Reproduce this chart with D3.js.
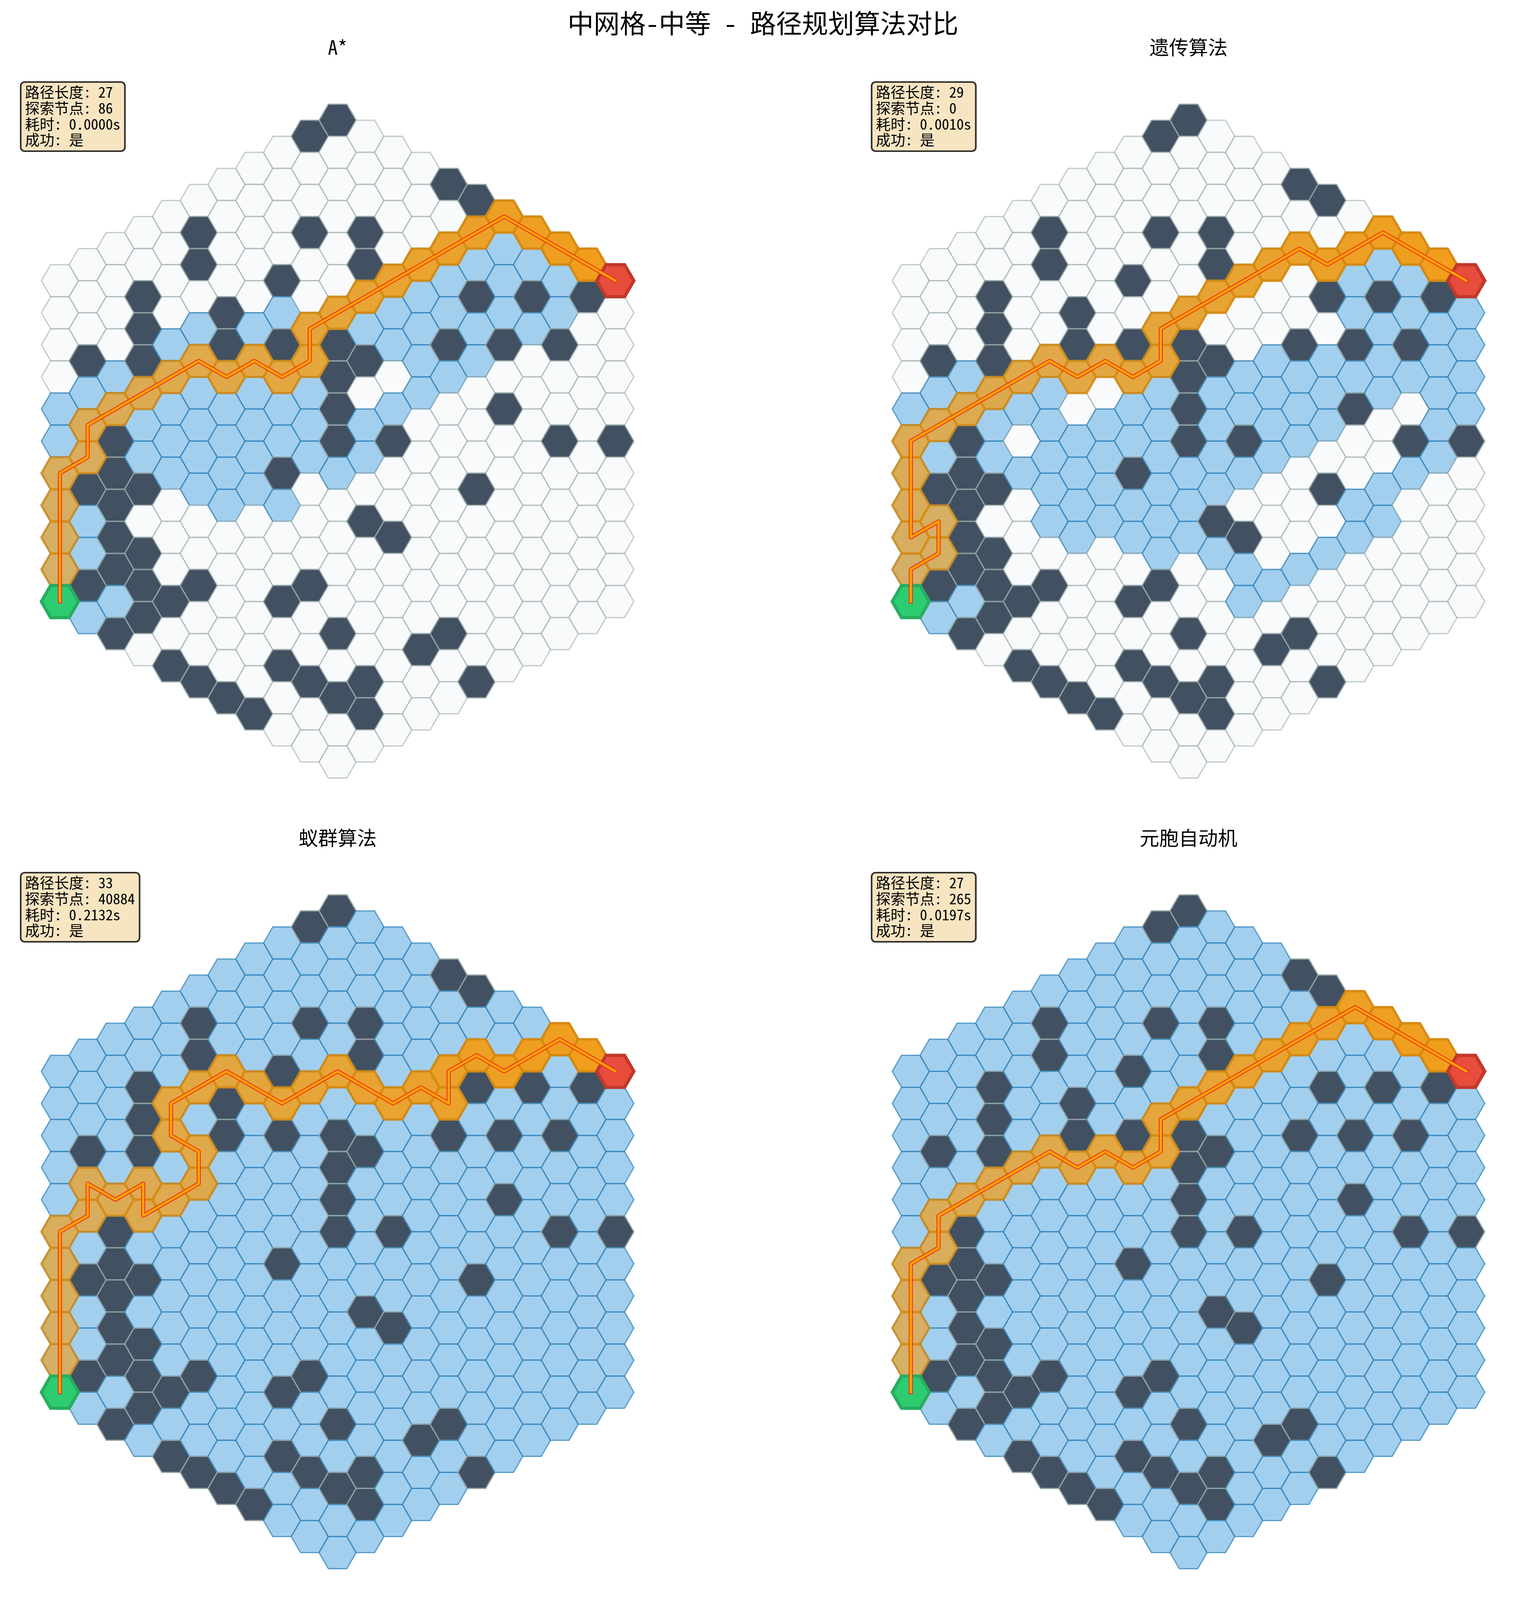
<!DOCTYPE html>
<html>
<head>
<meta charset="utf-8">
<script src="https://cdn.jsdelivr.net/npm/d3@7"></script>
<style>
  body { margin: 0; background: #fff; }
  text { font-family: "Noto Sans Mono CJK SC", "Noto Sans CJK SC", sans-serif; fill: #000; }
</style>
</head>
<body>
<div id="chart"></div>
<script>
const figTitle = "中网格-中等 - 路径规划算法对比";
const gridRadius = 10;
const startCell = [-10, 10];
const goalCell = [10, -10];

// [q, r] axial cell coords
const obstacles = [
  [0,-10],[-1,-9],[4,-10],[5,-10],[-5,-4],[-5,-3],[-1,-6],[1,-7],[1,-6],[-2,-4],
  [-7,-1],[-7,0],[-7,1],[-4,-2],[-4,-1],[-2,-2],[-9,2],[0,-3],[0,-2],[0,-1],[0,0],[1,-3],[2,-1],
  [5,-7],[7,-8],[9,-9],[4,-5],[6,-6],[8,-7],[6,-4],[8,-4],[10,-5],[5,-1],
  [-8,4],[-8,5],[-8,6],[-8,7],[-8,8],[-9,6],[-7,5],[-2,2],[1,2],[2,2],[-7,7],
  [-9,9],[-7,8],[-5,7],[-6,8],[-7,9],[-8,10],[-1,5],[-2,6],[0,6],[4,4],[3,5],
  [-6,10],[-5,10],[-4,10],[-3,10],[-2,8],[-1,8],[0,8],[1,7],[1,8],[5,5]
];

const pathAStar = [
  [-10,10],[-10,9],[-10,8],[-10,7],[-10,6],[-9,5],[-9,4],[-8,3],[-7,2],[-6,1],[-5,0],[-4,0],[-3,-1],[-2,-1],
  [-1,-2],[-1,-3],[0,-4],[1,-5],[2,-6],[3,-7],[4,-8],[5,-9],[6,-10],[7,-10],[8,-10],[9,-10],[10,-10]
];
const pathGA = [
  [-10,10],[-10,9],[-9,8],[-9,7],[-10,8],[-10,7],[-10,6],[-10,5],[-9,4],[-8,3],[-7,2],[-6,1],[-5,0],[-4,0],[-3,-1],
  [-2,-1],[-1,-2],[-1,-3],[0,-4],[1,-5],[2,-6],[3,-7],[4,-8],[5,-8],[6,-9],[7,-10],[8,-10],[9,-10],[10,-10]
];
const pathACO = [
  [-10,10],[-10,9],[-10,8],[-10,7],[-10,6],[-10,5],[-9,4],[-9,3],[-8,3],[-7,2],[-7,3],[-6,2],[-5,1],[-5,0],[-6,0],[-6,-1],
  [-5,-2],[-4,-3],[-3,-3],[-2,-3],[-1,-4],[0,-5],[1,-5],[2,-5],[3,-6],[4,-6],[4,-7],[5,-8],[6,-8],[7,-9],[8,-10],[9,-10],[10,-10]
];
const pathCA = pathAStar.slice();

// explored cells that are not on the path; ACO and CA explored everything
const visitedAStar = [
  [-10,4],[-10,5],[-9,3],[-9,7],[-9,8],[-9,10],[-8,2],[-8,9],[-7,3],[-7,4],[-6,0],[-6,2],[-6,3],[-6,4],
  [-5,-1],[-5,1],[-5,2],[-5,3],[-5,4],[-4,1],[-4,2],[-4,3],[-4,4],[-3,-2],[-3,0],[-3,1],[-3,2],[-3,3],
  [-2,-3],[-2,0],[-2,1],[-2,3],[-1,-1],[-1,0],[-1,1],[0,1],[1,-4],[1,-1],[1,0],[2,-5],[2,-4],[2,-2],
  [3,-6],[3,-5],[3,-4],[3,-3],[4,-7],[4,-6],[4,-4],[5,-8],[5,-6],[5,-5],[6,-9],[6,-8],[6,-7],[7,-9],[7,-7],[8,-9],[8,-8]
];
const visitedGA = [
  [-10,4],[-9,3],[-9,5],[-9,10],[-8,2],[-8,9],[-7,3],[-7,4],[-6,2],[-6,4],[-5,1],[-5,2],[-5,3],[-5,4],[-5,5],
  [-4,2],[-4,3],[-4,4],[-4,5],[-3,1],[-3,2],[-3,3],[-3,4],[-2,0],[-2,1],[-2,3],[-2,4],
  [-1,-1],[-1,0],[-1,1],[-1,2],[-1,3],[-1,4],[0,1],[0,2],[0,3],[1,-2],[1,-1],[1,0],[1,1],[1,3],
  [2,-3],[2,-2],[2,0],[2,3],[2,4],[3,-4],[3,-3],[3,-2],[3,-1],[3,3],[4,-4],[4,-3],[4,-2],[4,2],
  [5,-5],[5,-4],[5,-3],[5,1],[6,-8],[6,-7],[6,-5],[6,-1],[6,0],[7,-9],[7,-7],[7,-6],[7,-5],[7,-2],[7,-1],
  [8,-9],[8,-8],[8,-6],[8,-3],[9,-8],[9,-7],[9,-6],[9,-5],[9,-4],[10,-9],[10,-8],[10,-7],[10,-6]
];

const algoTitles = ["A*", "遗传算法", "蚁群算法", "元胞自动机"];
const algoPaths = [pathAStar, pathGA, pathACO, pathCA];
const algoVisited = [visitedAStar, visitedGA, null, null];
const algoInfo = [
  ["路径长度: 27", "探索节点: 86", "耗时: 0.0000s", "成功: 是"],
  ["路径长度: 29", "探索节点: 0", "耗时: 0.0010s", "成功: 是"],
  ["路径长度: 33", "探索节点: 40884", "耗时: 0.2132s", "成功: 是"],
  ["路径长度: 27", "探索节点: 265", "耗时: 0.0197s", "成功: 是"]
];

const width = 3906, height = 4131;
const panelX = [0, 2178, 0, 2178];
const panelY = [0, 0, 2024, 2024];

const svg = d3.select("#chart").append("svg")
  .attr("width", width)
  .attr("height", height)
  .attr("viewBox", [0, 0, width, height])
  .style("display", "block");

svg.append("text")
  .attr("x", 1953).attr("y", 85)
  .attr("text-anchor", "middle")
  .attr("font-size", 66.7)
  .text(figTitle);

const x = d3.scaleLinear().domain([-gridRadius, gridRadius]).range([153.3, 1575]);
const y = d3.scaleLinear().domain([-gridRadius / 2, gridRadius / 2]).range([718.6, 1540]);
const hexR = (x(1) - x(0)) * 2 / 3;
const hexCorners = d3.range(6).map(i => [hexR * Math.cos(i * Math.PI / 3), hexR * Math.sin(i * Math.PI / 3)]);
const hexPath = d3.line().curve(d3.curveLinearClosed)(hexCorners);
const cellX = d => x(d[0]);
const cellY = d => y(d[1] + d[0] / 2);
const key = d => d[0] + "," + d[1];

// all cells of the hex map, column by column (same draw order as the picture)
const cells = [];
d3.range(-gridRadius, gridRadius + 1).forEach(q => {
  d3.range(Math.max(-gridRadius, -gridRadius - q), Math.min(gridRadius, gridRadius - q) + 1).forEach(r => {
    cells.push([q, r]);
  });
});

const obstacleSet = new Set(obstacles.map(key));
const pathColor = d3.scaleLinear().domain([0, 1]).range([0.6, 0.97]);

const styles = {
  free: { fill: "#f8f9fa", fo: 0.8, stroke: "#95a5a6", so: 0.55 },
  visited: { fill: "#8cc3ea", fo: 0.8, stroke: "#2980b9", so: 0.7 },
  obstacle: { fill: "#2c3e50", fo: 0.9, stroke: "#95a5a6", so: 0.9 }
};

algoTitles.forEach((title, i) => {
  const g = svg.append("g").attr("transform", `translate(${panelX[i]},${panelY[i]})`);
  const path = algoPaths[i];
  const visited = algoVisited[i] ? new Set(algoVisited[i].concat(path).map(key)) : null;

  g.append("text")
    .attr("x", x(0)).attr("y", 140)
    .attr("text-anchor", "middle")
    .attr("font-size", 50)
    .text(title);

  const kind = d => obstacleSet.has(key(d)) ? "obstacle" : (!visited || visited.has(key(d))) ? "visited" : "free";

  g.append("g").selectAll("path").data(cells).join("path")
    .attr("d", hexPath)
    .attr("transform", d => `translate(${cellX(d)},${cellY(d)})`)
    .attr("fill", d => styles[kind(d)].fill)
    .attr("fill-opacity", d => styles[kind(d)].fo)
    .attr("stroke", d => styles[kind(d)].stroke)
    .attr("stroke-opacity", d => styles[kind(d)].so)
    .attr("stroke-width", 3.3)
    .attr("stroke-linejoin", "round");

  g.append("g").selectAll("path").data(path).join("path")
    .attr("d", hexPath)
    .attr("transform", d => `translate(${cellX(d)},${cellY(d)})`)
    .attr("fill", "#f39c12")
    .attr("fill-opacity", (d, j) => pathColor(j / (path.length - 1)))
    .attr("stroke", "#d68910")
    .attr("stroke-opacity", (d, j) => pathColor(j / (path.length - 1)))
    .attr("stroke-width", 6.2)
    .attr("stroke-linejoin", "round");

  [[startCell, "#2ecc71", "#27ae60"], [goalCell, "#e74c3c", "#c0392b"]].forEach(s => {
    g.append("path")
      .attr("d", hexPath)
      .attr("transform", `translate(${cellX(s[0])},${cellY(s[0])})`)
      .attr("fill", s[1])
      .attr("stroke", s[2])
      .attr("stroke-width", 8.3);
  });

  const line = d3.line().x(cellX).y(cellY);
  [["#f0281e", 10.4], ["#ffa500", 6.2]].forEach(s => {
    g.append("path")
      .attr("d", line(path))
      .attr("fill", "none")
      .attr("stroke", s[0])
      .attr("stroke-width", s[1])
      .attr("stroke-linejoin", "round")
      .attr("stroke-linecap", "square");
  });

  // info box, sized from its text
  const info = g.append("g");
  const box = info.append("rect");
  const label = info.append("g").selectAll("text").data(algoInfo[i]).join("text")
    .attr("x", 64)
    .attr("y", (d, j) => 250 + j * 40.8)
    .attr("font-size", 37.5)
    .text(d => d);
  const w = d3.max(label.nodes(), n => n.getComputedTextLength());
  box.attr("x", 53).attr("y", 210)
    .attr("width", w + 23).attr("height", 177)
    .attr("rx", 10)
    .attr("fill", "#f5deb3").attr("fill-opacity", 0.8)
    .attr("stroke", "#000").attr("stroke-opacity", 0.8)
    .attr("stroke-width", 4.2);
});
</script>
</body>
</html>
